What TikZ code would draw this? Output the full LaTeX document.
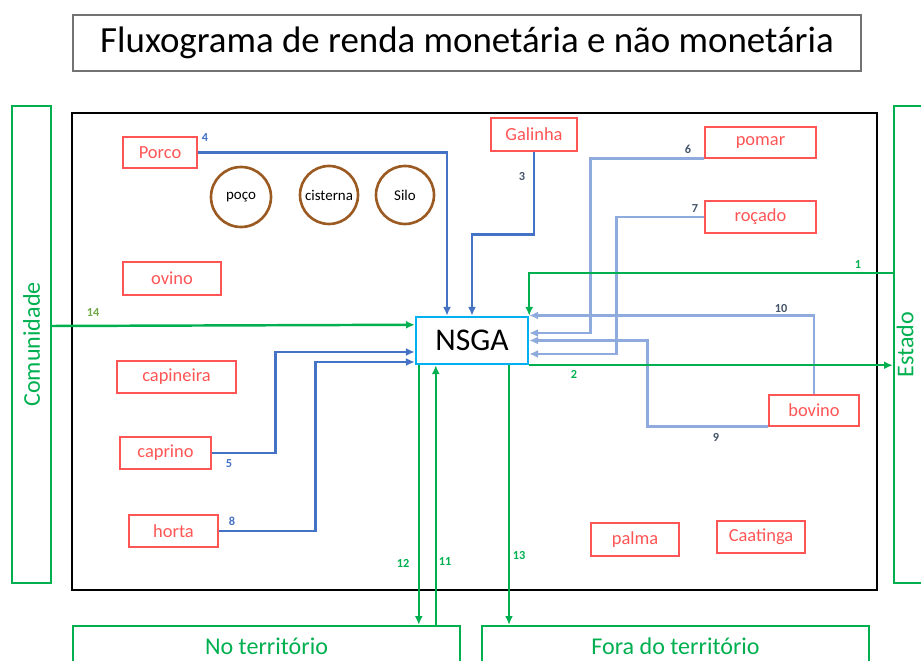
\documentclass[tikz,border=0pt]{standalone}
\usepackage{fontspec}
\setmainfont{Carlito}
\usetikzlibrary{positioning,calc,arrows.meta}

\definecolor{boxred}{RGB}{255,85,85}
\definecolor{tankbrown}{RGB}{156,90,35}
\definecolor{flowgreen}{RGB}{0,176,80}
\definecolor{olivegreen}{RGB}{112,168,71}
\definecolor{darkblue}{RGB}{68,114,196}
\definecolor{lightblue}{RGB}{143,170,220}
\definecolor{slateblue}{RGB}{68,84,106}
\definecolor{nsgacyan}{RGB}{0,176,240}

\begin{document}
\begin{tikzpicture}[
        x=0.02cm, y=-0.02cm,
        red box/.style={draw=boxred, text=boxred, line width=0.6pt, inner sep=0pt,
            minimum height=0.64cm, font=\fontsize{10.5}{12}\selectfont},
        tank/.style={circle, draw=tankbrown, line width=1.5pt, inner sep=0pt,
            minimum size=1.16cm, font=\fontsize{8.5}{10}\selectfont},
        green box/.style={draw=flowgreen, text=flowgreen, line width=1.3pt, inner sep=0pt,
            font=\fontsize{13.7}{16}\selectfont},
        num/.style={inner sep=0pt, font=\fontsize{7}{8}\selectfont\bfseries},
        dark line/.style={draw=darkblue, line width=1.4pt, -{Latex[length=5pt,width=4.5pt]}},
        light line/.style={draw=lightblue, line width=1.4pt, -{Latex[length=5pt,width=4.5pt]}},
        green line/.style={draw=flowgreen, line width=1.4pt, -{Latex[length=5pt,width=4.5pt]}},
    ]
    \useasboundingbox (0,0) rectangle (921,661);
    \clip (0,0) rectangle (921,661);

    % title and frame
    \node[draw=black!55, line width=0.8pt, minimum width=15.76cm, minimum height=1.12cm,
        font=\fontsize{21}{25}\selectfont] (title) at (467,43)
        {Fluxograma de renda monetária e não monetária};
    \node[draw, line width=1.6pt, minimum width=16.1cm, minimum height=9.54cm] (area) at (474.5,351.5) {};

    % destinations
    \node[green box, minimum width=0.78cm, minimum height=9.54cm] (comunidade) at (31.5,344.5) {\rotatebox{90}{Comunidade}};
    \node[green box, minimum width=0.78cm, minimum height=9.54cm] (estado) at (913.5,344.5) {};
    \node[text=flowgreen, inner sep=0pt, font=\fontsize{13.7}{16}\selectfont] (estado_text) at (905,344.5) {\rotatebox{90}{Estado}};
    \node[green box, minimum width=7.74cm, minimum height=0.8cm] (no_territorio) at (266.5,646) {No território};
    \node[green box, minimum width=7.74cm, minimum height=0.8cm] (fora_territorio) at (675.5,646) {Fora do território};

    % subsystems
    \node[red box, minimum width=1.48cm, minimum height=0.62cm] (porco) at (160,152.5) {Porco};
    \node[red box, minimum width=1.72cm, minimum height=0.66cm] (galinha) at (534,134.5) {Galinha};
    \node[red box, minimum width=2.22cm, minimum height=0.62cm] (pomar) at (760.5,142.5) {pomar};
    \node[red box, minimum width=2.22cm] (rocado) at (760.5,217) {roçado};
    \node[red box, minimum width=1.96cm, minimum height=0.66cm] (ovino) at (172,278.5) {ovino};
    \node[red box, minimum width=2.38cm] (capineira) at (176.5,377) {capineira};
    \node[red box, minimum width=1.82cm] (caprino) at (165.5,453) {caprino};
    \node[red box, minimum width=1.78cm] (horta) at (173.5,531) {horta};
    \node[red box, minimum width=1.80cm, minimum height=0.62cm] (bovino) at (814,410.5) {bovino};
    \node[red box, minimum width=1.76cm, minimum height=0.66cm] (palma) at (635,539.5) {palma};
    \node[red box, minimum width=1.76cm] (caatinga) at (761,537) {Caatinga};

    \node[tank, minimum size=1.2cm] (poco) at (241,197) {poço};
    \node[tank] (cisterna) at (329,195) {cisterna};
    \node[tank] (silo) at (405,195) {Silo};

    \node[draw=nsgacyan, fill=white, line width=1.4pt, minimum width=2.24cm, minimum height=0.94cm,
        font=\fontsize{18}{20}\selectfont] (nsga) at (472,340.5) {NSGA};

    % flows into NSGA
    \draw[dark line] (porco.east) -| ($(nsga.north)+(-25,0)$);
    \draw[dark line] (galinha.south) -- ++(0,83) -| (nsga.north);
    \draw[dark line] (caprino.east) -- ++(64,0) |- ($(nsga.west)+(0,11.5)$);
    \draw[dark line] (horta.east) -- ++(97,0) |- ($(nsga.west)+(0,21.5)$);
    \draw[light line] (pomar.south west) -- ++(-114,0) |- ($(nsga.east)+(0,-7.5)$);
    \draw[light line] (rocado.west) -- ++(-88,0) |- ($(nsga.east)+(0,13.5)$);
    \draw[light line] (bovino.north) |- ($(nsga.east)+(0,-25)$);
    \draw[light line] (bovino.south west) -- ++(-121,0) |- (nsga.east);

    % money flows
    \coordinate (out12) at ($(nsga.south west)+(4,0)$);
    \coordinate (in11) at ($(nsga.south west)+(21,0)$);
    \coordinate (out13) at ($(nsga.south)+(37,0)$);
    \draw[green line] ($(estado.west)+(0,-71.5)$) -| (nsga.north east);
    \draw[green line] (nsga.south east) -- (nsga.south east -| estado.west);
    \draw[green line] ($(comunidade.east)+(0,-18.5)$) -- ($(nsga.north west)+(0,9)$);
    \draw[green line] (out12) -- (out12 |- no_territorio.north);
    \draw[green line] (in11 |- no_territorio.north) -- (in11);
    \draw[green line] (out13) -- (out13 |- fora_territorio.north);

    % numbers
    \node[num, text=darkblue] (lab4) at (205,138) {4};
    \node[num, text=slateblue] (lab3) at (522,177) {3};
    \node[num, text=slateblue] (lab6) at (688,149) {6};
    \node[num, text=slateblue] (lab7) at (695,209) {7};
    \node[num, text=slateblue] (lab10) at (781,309) {10};
    \node[num, text=slateblue] (lab9) at (716,437) {9};
    \node[num, text=darkblue] (lab5) at (229,464) {5};
    \node[num, text=darkblue] (lab8) at (232,521) {8};
    \node[num, text=flowgreen] (lab1) at (858,265) {1};
    \node[num, text=flowgreen] (lab2) at (574,374) {2};
    \node[num, text=olivegreen] (lab14) at (93,313) {14};
    \node[num, text=flowgreen] (lab12) at (403,563) {12};
    \node[num, text=flowgreen] (lab11) at (445,562) {11};
    \node[num, text=flowgreen] (lab13) at (519,556) {13};
\end{tikzpicture}
\end{document}
